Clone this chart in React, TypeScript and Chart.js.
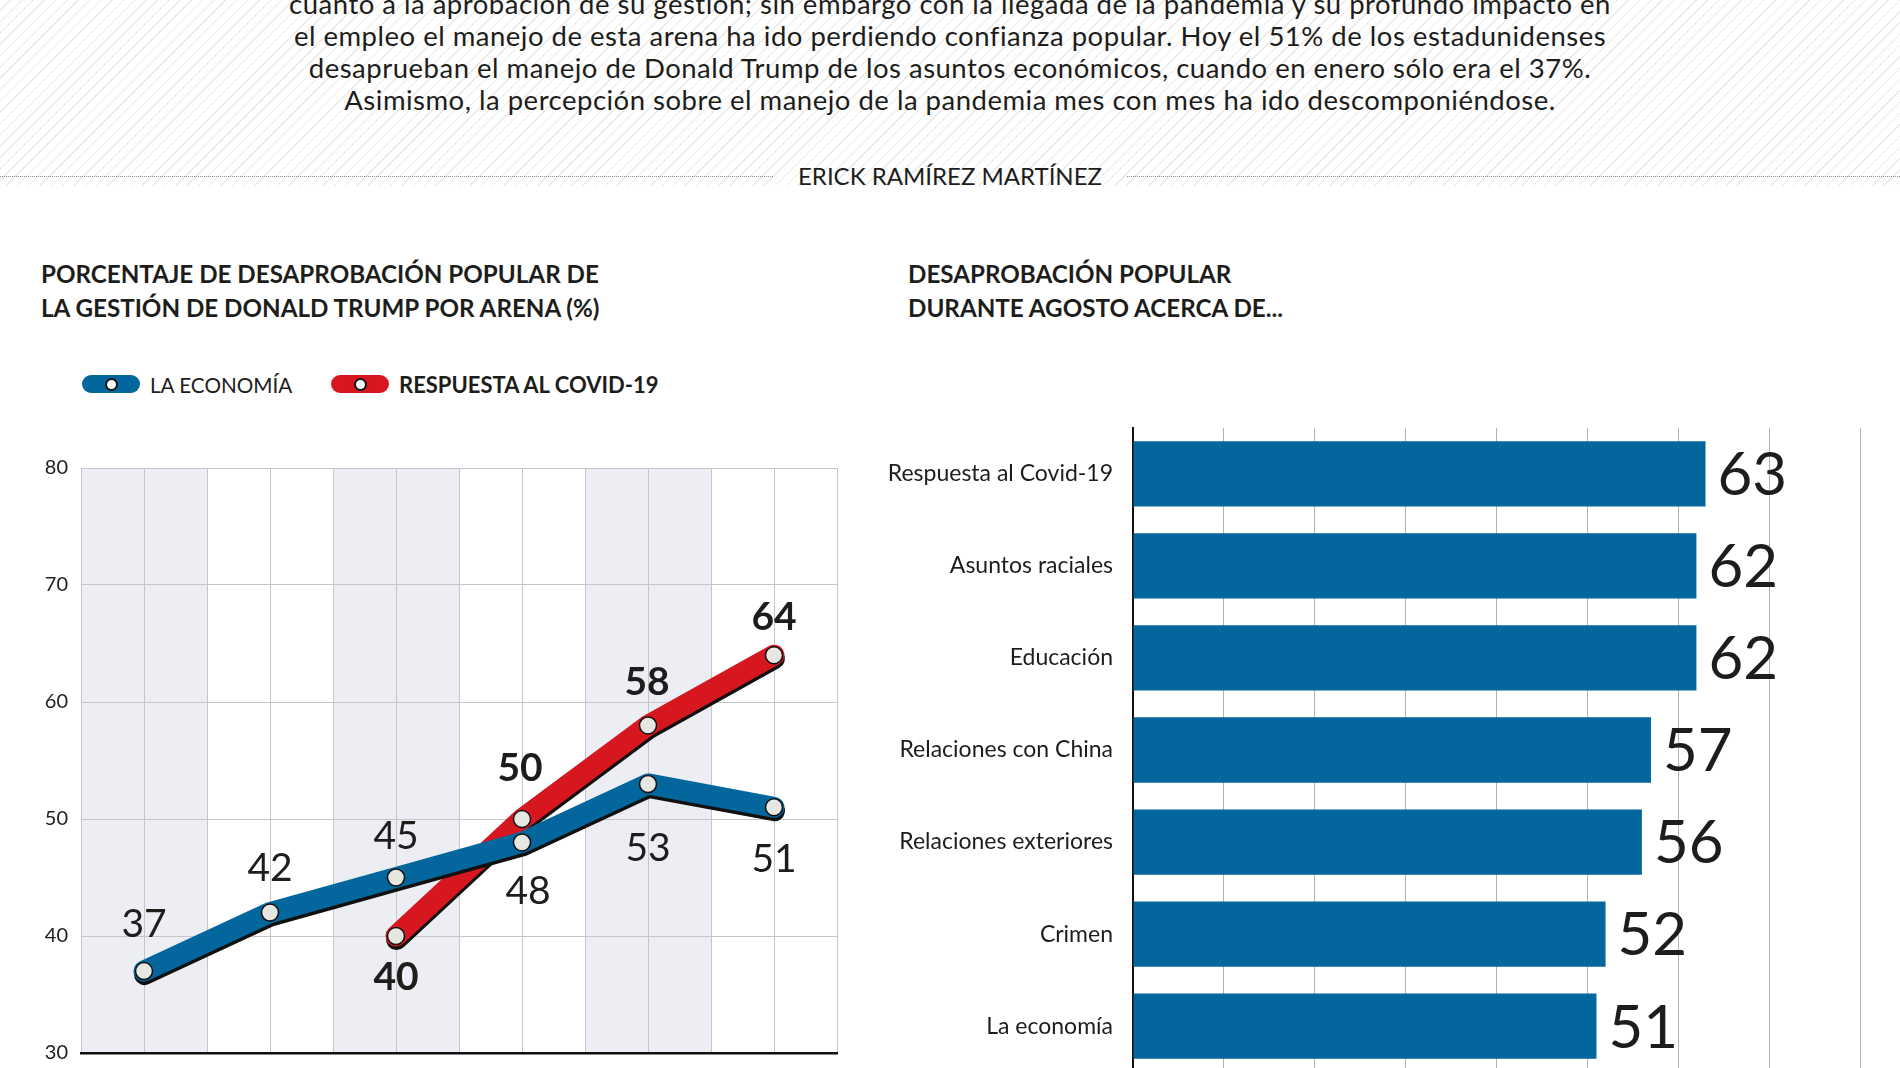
import React, { useEffect, useRef } from "react";
import { Chart, registerables } from "chart.js";

Chart.register(...registerables);

// ---------- DATA ----------
const PARAGRAPH_LINES = [
  "cuanto a la aprobación de su gestión; sin embargo con la llegada de la pandemia y su profundo impacto en",
  "el empleo el manejo de esta arena ha ido perdiendo confianza popular. Hoy el 51% de los estadunidenses",
  "desaprueban el manejo de Donald Trump de los asuntos económicos, cuando en enero sólo era el 37%.",
  "Asimismo, la percepción sobre el manejo de la pandemia mes con mes ha ido descomponiéndose.",
];
const AUTHOR = "ERICK RAMÍREZ MARTÍNEZ";
const LEFT_TITLE = ["PORCENTAJE DE DESAPROBACIÓN POPULAR DE", "LA GESTIÓN DE DONALD TRUMP POR ARENA (%)"];
const RIGHT_TITLE = ["DESAPROBACIÓN POPULAR", "DURANTE AGOSTO ACERCA DE..."];

const LINE_CATEGORIES = ["Ene", "Mar", "Abr", "May", "Jul", "Ago"];
const SERIES_NAMES = ["LA ECONOMÍA", "RESPUESTA AL COVID-19"];
const ECONOMY_VALUES = [37, 42, 45, 48, 53, 51];
const COVID_VALUES = [null, null, 40, 50, 58, 64];
const Y_TICKS = [30, 40, 50, 60, 70, 80];

const BAR_CATEGORIES = [
  "Respuesta al Covid-19",
  "Asuntos raciales",
  "Educación",
  "Relaciones con China",
  "Relaciones exteriores",
  "Crimen",
  "La economía",
];
const BAR_VALUES = [63, 62, 62, 57, 56, 52, 51];
const BAR_TICKS = [0, 10, 20, 30, 40, 50, 60, 70, 80];

// ---------- STYLE ----------
const FONT = "Lato, 'Open Sans', sans-serif";
const TEXT = "#1d1d1b";
const BLUE = "#03679e";
const RED = "#d6171f";
const BAND = "#eceef4";
const GRID = "#c4c6cc";

const bandsPlugin = {
  id: "bands",
  beforeDraw(chart: any) {
    const { ctx, chartArea, scales } = chart;
    const x = scales.x;
    const n = chart.data.labels.length;
    const w = x.getPixelForValue(1) - x.getPixelForValue(0);
    ctx.save();
    for (let i = 0; i < n; i++) {
      const c = x.getPixelForValue(i);
      if (i % 2 === 0) {
        ctx.fillStyle = BAND;
        ctx.fillRect(c - w / 2, chartArea.top, w, chartArea.bottom - chartArea.top);
      }
    }
    ctx.strokeStyle = GRID;
    ctx.lineWidth = 1;
    for (let i = 0; i <= n; i++) {
      const bx = Math.round(x.getPixelForValue(i) - w / 2) + 0.5;
      ctx.beginPath();
      ctx.moveTo(bx, chartArea.top);
      ctx.lineTo(bx, chartArea.bottom);
      ctx.stroke();
    }
    ctx.restore();
  },
};

const shadowPlugin = {
  id: "lineShadow",
  beforeDatasetDraw(chart: any, args: any) {
    const ds = chart.data.datasets[args.index];
    if (ds.shadowed) {
      const ctx = chart.ctx;
      ctx.save();
      ctx.shadowColor = "#111111";
      ctx.shadowOffsetX = 0.5;
      ctx.shadowOffsetY = 3.5;
      ctx.shadowBlur = 0.5;
    }
  },
  afterDatasetDraw(chart: any, args: any) {
    const ds = chart.data.datasets[args.index];
    if (ds.shadowed) chart.ctx.restore();
  },
};

const lineLabelsPlugin = {
  id: "lineLabels",
  afterDatasetsDraw(chart: any) {
    const ctx = chart.ctx;
    chart.data.datasets.forEach((ds: any, di: number) => {
      if (!ds.labelOffsets) return;
      const meta = chart.getDatasetMeta(di);
      ctx.save();
      ctx.fillStyle = TEXT;
      ctx.textAlign = "center";
      ctx.textBaseline = "middle";
      ctx.font = `${ds.labelWeight} 39px ${FONT}`;
      meta.data.forEach((pt: any, i: number) => {
        const v = ds.data[i];
        if (v === null || v === undefined) return;
        const off = ds.labelOffsets[i];
        ctx.fillText(String(v), pt.x + off[0], pt.y + off[1]);
      });
      ctx.restore();
    });
  },
};

const barLabelsPlugin = {
  id: "barLabels",
  afterDatasetsDraw(chart: any) {
    const ctx = chart.ctx;
    const meta = chart.getDatasetMeta(0);
    ctx.save();
    ctx.fillStyle = TEXT;
    ctx.textAlign = "left";
    ctx.textBaseline = "middle";
    ctx.font = `400 60px ${FONT}`;
    meta.data.forEach((bar: any, i: number) => {
      ctx.fillText(String(chart.data.datasets[0].data[i]), bar.x + 12, bar.y + 2);
    });
    ctx.restore();
  },
};

function LineChart() {
  const ref = useRef<HTMLCanvasElement>(null);
  useEffect(() => {
    const pointStyle = {
      showLine: false,
      pointRadius: 8.5,
      pointHoverRadius: 8.5,
      pointBorderWidth: 1.5,
      pointBorderColor: "#111",
      pointBackgroundColor: "#e7e7e2",
      clip: false,
    };
    const lineStyle = {
      pointRadius: 0,
      pointHoverRadius: 0,
      borderWidth: 21,
      borderCapStyle: "round",
      borderJoinStyle: "round",
      tension: 0,
      clip: false,
      shadowed: true,
      spanGaps: false,
    };
    const chart = new Chart(ref.current!, {
      type: "line",
      data: {
        labels: LINE_CATEGORIES,
        datasets: [
          {
            ...pointStyle,
            label: SERIES_NAMES[0],
            data: ECONOMY_VALUES,
            order: 0,
            labelWeight: 400,
            labelOffsets: [[0, -47], [0, -44], [0, -41], [6, 49], [0, 65], [0, 52]],
          } as any,
          {
            ...pointStyle,
            label: SERIES_NAMES[1],
            data: COVID_VALUES,
            order: 1,
            labelWeight: 700,
            labelOffsets: [[0, 0], [0, 0], [0, 41], [-2, -51], [-1, -43], [0, -38]],
          } as any,
          { ...lineStyle, label: SERIES_NAMES[0], data: ECONOMY_VALUES, borderColor: BLUE, order: 2 } as any,
          { ...lineStyle, label: SERIES_NAMES[1], data: COVID_VALUES, borderColor: RED, order: 3 } as any,
        ],
      },
      options: {
        animation: false,
        responsive: false,
        events: [],
        layout: { padding: { top: 28, bottom: 6, right: 23, left: 0 } },
        plugins: { legend: { display: false }, tooltip: { enabled: false } },
        scales: {
          x: {
            type: "category",
            offset: true,
            grid: { display: true, color: GRID, lineWidth: 1, drawTicks: false, offset: false },
            ticks: { display: false },
            border: { display: true, color: "#111", width: 2.5 },
            afterFit: (s: any) => {
              s.height = 0;
            },
          },
          y: {
            min: 30,
            max: 80,
            afterBuildTicks: (s: any) => {
              s.ticks = Y_TICKS.map((v) => ({ value: v }));
            },
            grid: { color: GRID, lineWidth: 1, drawTicks: false },
            border: { display: false },
            ticks: { padding: 13, color: "#222", font: { family: FONT, size: 20 } },
            afterFit: (s: any) => {
              s.width = 81;
            },
          },
        },
      } as any,
      plugins: [bandsPlugin, shadowPlugin, lineLabelsPlugin],
    });
    return () => chart.destroy();
  }, []);
  return <canvas ref={ref} width={860} height={638} style={{ width: 860, height: 638, display: "block" }} />;
}

function BarChart() {
  const ref = useRef<HTMLCanvasElement>(null);
  useEffect(() => {
    const chart = new Chart(ref.current!, {
      type: "bar",
      data: {
        labels: BAR_CATEGORIES,
        datasets: [
          {
            data: BAR_VALUES,
            backgroundColor: BLUE,
            barPercentage: 0.71,
            categoryPercentage: 1,
          },
        ],
      },
      options: {
        indexAxis: "y",
        animation: false,
        responsive: false,
        events: [],
        layout: { padding: { top: 24, bottom: 11, right: 40, left: 0 } },
        plugins: { legend: { display: false }, tooltip: { enabled: false } },
        scales: {
          x: {
            min: 0,
            max: 80,
            afterBuildTicks: (s: any) => {
              s.ticks = BAR_TICKS.map((v) => ({ value: v }));
            },
            grid: { color: "#b3b3b3", lineWidth: 1, drawTicks: false },
            border: { display: false },
            ticks: { display: false },
            afterFit: (s: any) => {
              s.height = 0;
            },
          },
          y: {
            grid: { display: false, drawTicks: false },
            border: { display: true, color: "#111", width: 2 },
            ticks: { padding: 20, color: TEXT, font: { family: FONT, size: 23 } },
            afterFit: (s: any) => {
              s.width = 273;
            },
          },
        },
      } as any,
      plugins: [barLabelsPlugin],
    });
    return () => chart.destroy();
  }, []);
  return <canvas ref={ref} width={1040} height={712} style={{ width: 1040, height: 712, display: "block" }} />;
}

function LegendPill({ color }: { color: string }) {
  return (
    <div style={{ position: "absolute", left: 0, top: 0, width: 58, height: 18, borderRadius: 9, background: color }}>
      <div
        style={{
          position: "absolute",
          left: 22.5,
          top: 2.5,
          width: 13,
          height: 13,
          borderRadius: "50%",
          background: "#fff",
          border: "2px solid #111",
          boxSizing: "border-box",
        }}
      />
    </div>
  );
}

export default function App() {
  return (
    <div
      style={{
        position: "absolute",
        left: 0,
        top: 0,
        width: 1900,
        height: 1068,
        overflow: "hidden",
        background: "#fff",
        fontFamily: FONT,
        color: TEXT,
      }}
    >
      {/* hatched header */}
      <div
        style={{
          position: "absolute",
          left: 0,
          top: 0,
          width: 1900,
          height: 186,
          background: "repeating-linear-gradient(135deg, #ffffff 0px, #ffffff 7px, #e9e9e9 7px, #e9e9e9 8px)",
        }}
      />
      <div
        style={{
          position: "absolute",
          left: 0,
          top: -12.2,
          width: 1900,
          textAlign: "center",
          fontSize: 27.5,
          letterSpacing: "0.5px",
          lineHeight: "32.2px",
        }}
      >
        {PARAGRAPH_LINES.map((l, i) => (
          <div key={i} style={{ whiteSpace: "nowrap" }}>
            {l}
          </div>
        ))}
      </div>
      <div style={{ position: "absolute", left: 0, top: 176, width: 773, borderTop: "1px dotted #8d8d8d" }} />
      <div style={{ position: "absolute", left: 1127, top: 176, width: 773, borderTop: "1px dotted #8d8d8d" }} />
      <div
        style={{ position: "absolute", left: 0, top: 163.7, width: 1900, textAlign: "center", fontSize: 24, lineHeight: "24px", whiteSpace: "nowrap" }}
      >
        {AUTHOR}
      </div>

      {/* titles */}
      <div style={{ position: "absolute", left: 41, top: 257, fontSize: 24.2, fontWeight: 700, lineHeight: "34px", whiteSpace: "nowrap" }}>
        {LEFT_TITLE.map((l, i) => (
          <div key={i}>{l}</div>
        ))}
      </div>
      <div style={{ position: "absolute", left: 908, top: 257, fontSize: 24.2, fontWeight: 700, lineHeight: "34px", whiteSpace: "nowrap" }}>
        {RIGHT_TITLE.map((l, i) => (
          <div key={i}>{l}</div>
        ))}
      </div>

      {/* legend */}
      <div style={{ position: "absolute", left: 82, top: 375 }}>
        <LegendPill color={BLUE} />
      </div>
      <div style={{ position: "absolute", left: 150, top: 374.5, fontSize: 20.7, lineHeight: "21px", whiteSpace: "nowrap" }}>{SERIES_NAMES[0]}</div>
      <div style={{ position: "absolute", left: 331, top: 375 }}>
        <LegendPill color={RED} />
      </div>
      <div style={{ position: "absolute", left: 399, top: 374, fontSize: 22, fontWeight: 700, lineHeight: "21px", whiteSpace: "nowrap" }}>
        {SERIES_NAMES[1]}
      </div>

      {/* charts */}
      <div style={{ position: "absolute", left: 0, top: 440 }}>
        <LineChart />
      </div>
      <div style={{ position: "absolute", left: 860, top: 394 }}>
        <BarChart />
      </div>
    </div>
  );
}
